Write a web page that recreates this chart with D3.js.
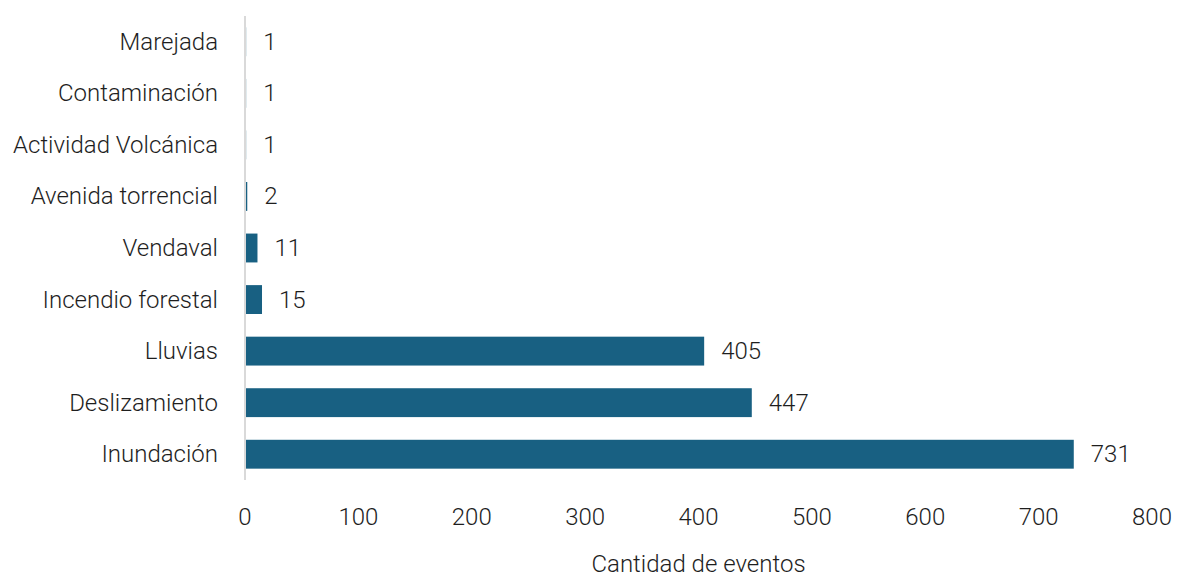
<!DOCTYPE html>
<html><head><meta charset="utf-8">
<script src="https://cdn.jsdelivr.net/npm/d3@7"></script>
<style>
body{margin:0;background:#fff;}
text{font-family:"Roboto","Liberation Sans",sans-serif;font-weight:300;fill:#1e1e1e;}
</style></head>
<body><svg id="c" width="1177" height="579"></svg>
<script>
const categories = ["Marejada","Contaminación","Actividad Volcánica","Avenida torrencial","Vendaval","Incendio forestal","Lluvias","Deslizamiento","Inundación"];
const values = [1,1,1,2,11,15,405,447,731];
const xTicks = [0,100,200,300,400,500,600,700,800];
const xTitle = "Cantidad de eventos";

(function(){
const svg = d3.select("#c");
const mL = 245, mR = 1152, mT = 16, mB = 480;
const x = d3.scaleLinear().domain([0,800]).range([mL,mR]);
const y = d3.scaleBand().domain(categories).range([mT,mB]).paddingInner(0.44).paddingOuter(0.22);
const fs = 24;

svg.selectAll("rect.bar").data(values).enter().append("rect")
  .attr("x", x(0)).attr("y", (d,i)=>y(categories[i]))
  .attr("width", d=>x(d)-x(0)).attr("height", y.bandwidth())
  .attr("fill","#186082");

svg.append("line").attr("x1",mL).attr("x2",mL).attr("y1",mT).attr("y2",mB)
  .attr("stroke","#d9d9d9").attr("stroke-width",2);

svg.selectAll("text.cat").data(categories).enter().append("text")
  .attr("x", mL-27).attr("y", d=>y(d)+y.bandwidth()/2)
  .attr("text-anchor","end").attr("dominant-baseline","central")
  .style("font-size",fs+"px").text(d=>d);

svg.selectAll("text.val").data(values).enter().append("text")
  .attr("x", d=>x(d)+17).attr("y",(d,i)=>y(categories[i])+y.bandwidth()/2)
  .attr("dominant-baseline","central")
  .style("font-size",fs+"px").text(d=>d);

svg.selectAll("text.tick").data(xTicks).enter().append("text")
  .attr("x", d=>x(d)).attr("y", 517)
  .attr("text-anchor","middle").attr("dominant-baseline","central")
  .style("font-size",fs+"px").text(d=>d);

svg.append("text").attr("x",(mL+mR)/2).attr("y",564)
  .attr("text-anchor","middle").attr("dominant-baseline","central")
  .style("font-size","24px").text(xTitle);
})();
</script></body></html>
